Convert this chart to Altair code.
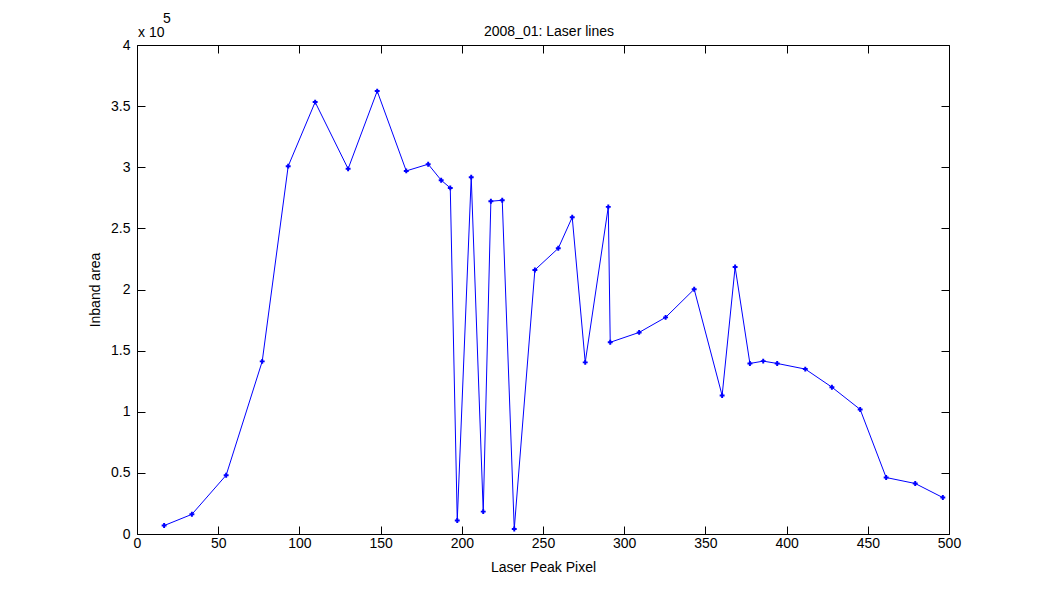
import altair as alt
import pandas as pd

pixel = [16.7, 33.8, 54.9, 77.1, 93.1, 109.7, 130.0, 147.9, 165.8, 179.3,
         187.3, 192.9, 197.2, 205.8, 213.2, 217.9, 224.9, 232.3, 245.0, 259.4,
         268.0, 276.0, 290.2, 291.4, 309.2, 325.5, 343.1, 360.3, 368.3, 377.4,
         385.6, 394.2, 411.5, 427.9, 445.3, 461.3, 479.2, 496.2]
area = [6900, 16100, 48100, 141200, 300900, 353300, 298700, 362300, 297000, 302500,
        289400, 283100, 11000, 291900, 18300, 272200, 273000, 4100, 216000, 233700,
        259100, 140400, 267600, 156800, 164900, 177200, 200200, 113300, 218400, 139500,
        141400, 139500, 134900, 120100, 101900, 46200, 41300, 29800]

x_ticks = [0, 50, 100, 150, 200, 250, 300, 350, 400, 450, 500]
y_ticks = [0, 50000, 100000, 150000, 200000, 250000, 300000, 350000, 400000]

title_text = ["2008_01: Laser lines"]

df = pd.DataFrame({"pixel": pixel, "area": area, "idx": list(range(len(pixel)))})

FONT = "Liberation Sans"
FS = 14
BLUE = "#0000FF"

xscale = alt.Scale(domain=[0, 500], nice=False, zero=False)
yscale = alt.Scale(domain=[0, 400000], nice=False)

base = alt.Chart(df)

line = base.mark_line(color=BLUE, strokeWidth=1).encode(
    x=alt.X("pixel:Q", scale=xscale,
            axis=alt.Axis(orient="bottom", values=x_ticks, title="Laser Peak Pixel",
                          offset=-8, tickSize=8, labelPadding=2, titlePadding=10,
                          labelFlush=False, domain=False, grid=False)),
    y=alt.Y("area:Q", scale=yscale,
            axis=alt.Axis(orient="left", values=y_ticks, title="Inband area",
                          labelExpr="datum.value / 100000",
                          offset=-8, tickSize=8, labelPadding=7, titlePadding=8,
                          labelFlush=False, domain=False, grid=False)),
    order="idx:Q",
)

pts = base.mark_point(shape="cross", filled=True, size=24, color=BLUE, opacity=1).encode(
    x=alt.X("pixel:Q", scale=xscale,
            axis=alt.Axis(orient="top", values=x_ticks, title=None, labels=False,
                          offset=-8, tickSize=8, domain=False, grid=False)),
    y=alt.Y("area:Q", scale=yscale,
            axis=alt.Axis(orient="right", values=y_ticks, title=None, labels=False,
                          offset=-8, tickSize=8, domain=False, grid=False)),
)

title = alt.Chart(pd.DataFrame({"t": title_text})).mark_text(
    align="center", baseline="alphabetic", font=FONT, fontSize=FS, color="black"
).encode(x=alt.value(412), y=alt.value(-9), text="t:N")

exp_base = alt.Chart(pd.DataFrame({"t": ["x 10"]})).mark_text(
    align="left", baseline="alphabetic", font=FONT, fontSize=FS, color="black"
).encode(x=alt.value(1), y=alt.value(-8), text="t:N")

exp_pow = alt.Chart(pd.DataFrame({"t": ["5"]})).mark_text(
    align="left", baseline="alphabetic", font=FONT, fontSize=FS, color="black"
).encode(x=alt.value(26), y=alt.value(-22), text="t:N")

chart = alt.layer(line, pts, title, exp_base, exp_pow).resolve_axis(
    x="independent", y="independent"
).properties(
    width=812, height=489,
    autosize=alt.AutoSizeParams(type="none"),
    padding={"left": 129, "top": 37, "right": 93, "bottom": 58},
    background="white",
).configure_view(
    stroke="black", strokeWidth=1
).configure_axis(
    labelFont=FONT, labelFontSize=FS, labelColor="black",
    titleFont=FONT, titleFontSize=FS, titleFontWeight="normal", titleColor="black",
    tickColor="black", tickWidth=1,
)

chart.save("out.html", embed_options={"renderer": "svg", "actions": False})
